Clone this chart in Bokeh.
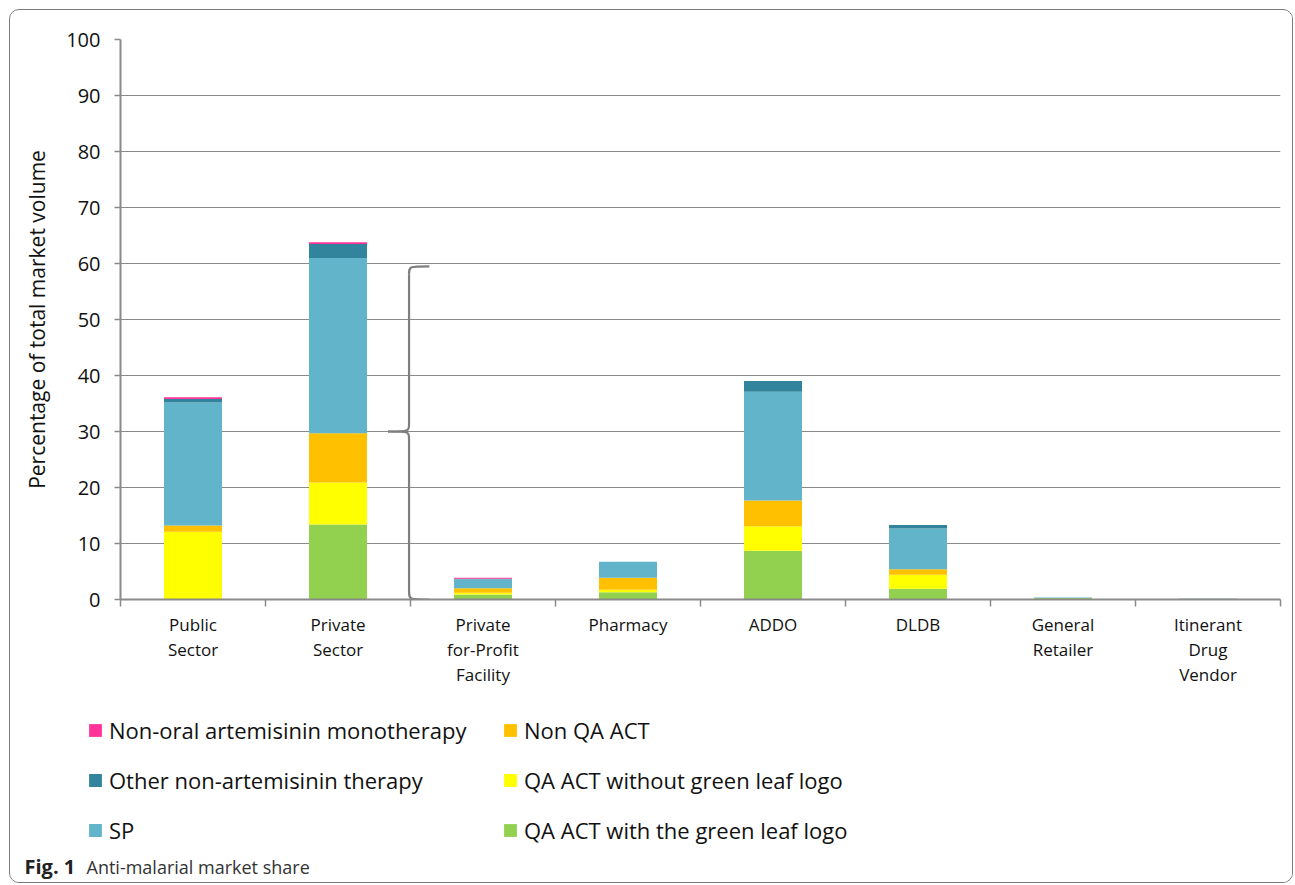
from bokeh.plotting import figure
from bokeh.layouts import column
from bokeh.models import ColumnDataSource, Legend, LegendItem, FixedTicker, Label, Range1d
from bokeh.embed import file_html
from bokeh.resources import INLINE

# ---- data ----
categories = ["Public\nSector", "Private\nSector", "Private\nfor-Profit\nFacility", "Pharmacy",
              "ADDO", "DLDB", "General\nRetailer", "Itinerant\nDrug\nVendor"]
qa_green = [0.0, 13.4, 0.9, 1.3, 8.7, 1.9, 0.25, 0.15]
qa_no_logo = [12.1, 7.5, 0.3, 0.45, 4.4, 2.5, 0.0, 0.0]
non_qa = [1.1, 8.8, 0.8, 2.15, 4.6, 1.0, 0.0, 0.0]
sp = [22.0, 31.3, 1.6, 2.85, 19.4, 7.3, 0.1, 0.05]
other_nonart = [0.6, 2.5, 0.1, 0.0, 1.9, 0.6, 0.0, 0.0]
nonoral_mono = [0.3, 0.3, 0.2, 0.0, 0.0, 0.0, 0.0, 0.0]
y_ticks = [0, 10, 20, 30, 40, 50, 60, 70, 80, 90, 100]

series_keys = ["qa_green", "qa_no_logo", "non_qa", "sp", "other_nonart", "nonoral_mono"]
series_names = ["QA ACT with the green leaf logo", "QA ACT without green leaf logo", "Non QA ACT",
                "SP", "Other non-artemisinin therapy", "Non-oral artemisinin monotherapy"]
colors = ["#92D050", "#FFFF00", "#FFC000", "#62B4CB", "#31849B", "#FF3399"]

# brace spanning private sector sub-outlets (annotation)
brace_top = 59.5
brace_mid = 30.0
brace_bottom = 0.0

xs = [i + 0.5 for i in range(len(categories))]
source = ColumnDataSource(dict(x=xs, qa_green=qa_green, qa_no_logo=qa_no_logo, non_qa=non_qa,
                               sp=sp, other_nonart=other_nonart, nonoral_mono=nonoral_mono))

FONT = "Open Sans"
GRID = "#8a8a8a"
W = 1282

p = figure(frame_width=1160, frame_height=560, x_range=Range1d(0, len(categories)),
           y_range=Range1d(0, 100), output_backend="svg", toolbar_location=None,
           min_border_left=110, min_border_top=29, min_border_right=12, min_border_bottom=101,
           background_fill_color="white", border_fill_color="white", outline_line_color=None)

renderers = p.vbar_stack(series_keys, x="x", width=0.4, color=colors, source=source, line_color=None)

# brace
xr, xv, xt = 2.13, 1.99, 1.845
d = 1.5
BR = dict(line_color="#7f7f7f", line_width=2.2)
p.bezier(x0=[xr, xv, xt, xv], y0=[brace_top, brace_mid + d, brace_mid, brace_bottom + d],
         x1=[xv, xt, xv, xr], y1=[brace_top - d, brace_mid, brace_mid - d, brace_bottom],
         cx0=[xv, xv, xv, xv], cy0=[brace_top, brace_mid, brace_mid, brace_bottom],
         cx1=[xv, xv, xv, xv], cy1=[brace_top, brace_mid, brace_mid, brace_bottom], **BR)
p.segment(x0=[xv, xv], y0=[brace_top - d, brace_mid - d], x1=[xv, xv], y1=[brace_mid + d, brace_bottom + d], **BR)

# axes
p.xgrid.visible = False
p.ygrid.grid_line_color = GRID
p.ygrid.grid_line_width = 1.2
p.ygrid.ticker = FixedTicker(ticks=y_ticks)

yax = p.yaxis[0]
yax.ticker = FixedTicker(ticks=y_ticks)
yax.axis_line_color = GRID
yax.axis_line_width = 2
yax.major_tick_line_color = GRID
yax.major_tick_line_width = 1.5
yax.major_tick_out = 6
yax.major_tick_in = 0
yax.minor_tick_line_color = None
yax.major_label_text_font = FONT
yax.major_label_text_font_size = "20px"
yax.major_label_text_color = "#111111"
yax.major_label_standoff = 14
yax.axis_label = "Percentage of total market volume"
yax.axis_label_text_font = FONT
yax.axis_label_text_font_size = "21px"
yax.axis_label_text_font_style = "normal"
yax.axis_label_text_color = "#111111"
yax.axis_label_standoff = 12

xax = p.xaxis[0]
xax.ticker = FixedTicker(ticks=xs, minor_ticks=list(range(len(categories) + 1)))
xax.major_label_overrides = {x: c for x, c in zip(xs, categories)}
xax.axis_line_color = GRID
xax.axis_line_width = 2
xax.major_tick_line_color = None
xax.major_tick_out = 0
xax.major_tick_in = 0
xax.minor_tick_line_color = GRID
xax.minor_tick_line_width = 1.5
xax.minor_tick_out = 7
xax.minor_tick_in = 0
xax.major_label_text_font = FONT
xax.major_label_text_font_size = "17px"
xax.major_label_text_line_height = 1.1
xax.major_label_text_color = "#111111"
xax.major_label_standoff = 6

# ---- legend + caption panel ----
p2 = figure(width=W, height=182, x_range=Range1d(0, 1), y_range=Range1d(0, 1),
            x_axis_location=None, y_axis_location=None,
            output_backend="svg", toolbar_location=None, min_border=0,
            outline_line_color=None, background_fill_color="white", border_fill_color="white")
p2.frame_align = False
p2.grid.visible = False
# legend swatches (zero-height, used only for the legend glyphs)
dummies = [p2.vbar(x=[-5], top=[0], bottom=[0], width=0.1, fill_color=c, line_color=None) for c in colors]

order = [5, 4, 3, 2, 1, 0]
items = [LegendItem(label=series_names[i], renderers=[dummies[i]]) for i in order]
legend = Legend(items=items, ncols=2, orientation="vertical", location=(77, 37),
                label_text_font=FONT, label_text_font_size="22px", label_text_color="#111111",
                glyph_width=16, glyph_height=16, label_height=26, label_width=373, spacing=20,
                label_standoff=6, padding=0, margin=0, border_line_color=None, background_fill_alpha=0)
p2.add_layout(legend, "center")

p2.add_layout(Label(x=14, y=16, x_units="screen", y_units="screen", text="Fig. 1",
                    text_font=FONT, text_font_style="bold", text_font_size="20px",
                    text_color="#222222", text_baseline="middle"))
p2.add_layout(Label(x=76, y=16, x_units="screen", y_units="screen", text="Anti-malarial market share",
                    text_font=FONT, text_font_size="18px", text_color="#333333", text_baseline="middle"))

layout = column(p, p2, spacing=0)
layout.styles = {"border": "1.5px solid #7a7a7a", "border-radius": "10px", "margin-left": "9px",
                 "margin-top": "9px", "background-color": "white", "overflow": "hidden"}

open("out.html", "w").write(file_html(layout, INLINE))
